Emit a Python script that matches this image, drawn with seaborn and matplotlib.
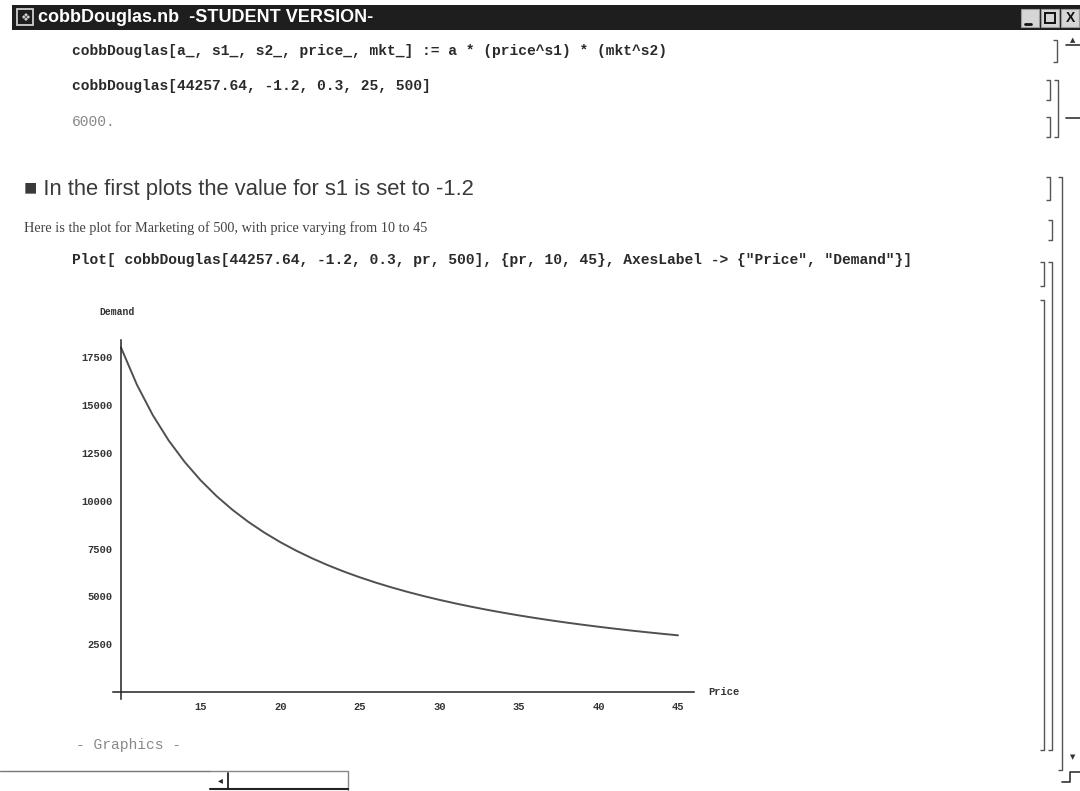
import matplotlib
matplotlib.use("Agg")
import matplotlib.pyplot as plt
from matplotlib.patches import Rectangle
from matplotlib.ticker import FixedLocator, MultipleLocator
import seaborn as sns
import pandas as pd

# ---- data ----
price = [10, 11, 12, 13, 14, 15, 16, 17, 18, 19, 20, 21, 22, 23, 24, 25, 26, 27,
         28, 29, 30, 31, 32, 33, 34, 35, 36, 37, 38, 39, 40, 41, 42, 43, 44, 45]
demand = [18017, 16070, 14476, 13150, 12032, 11076, 10250, 9531, 8899, 8340,
          7842, 7396, 6995, 6631, 6301, 6000, 5724, 5471, 5237, 5021,
          4821, 4635, 4462, 4300, 4149, 4007, 3874, 3748, 3630, 3519,
          3414, 3314, 3219, 3130, 3045, 2964]
x_ticks = [15, 20, 25, 30, 35, 40, 45]
x_tick_labels = ["15", "20", "25", "30", "35", "40", "45"]
y_ticks = [2500, 5000, 7500, 10000, 12500, 15000, 17500]
y_tick_labels = ["2500", "5000", "7500", "10000", "12500", "15000", "17500"]
x_label = "Price"
y_label = "Demand"

window_title = "cobbDouglas.nb  -STUDENT VERSION-"
code_def = "cobbDouglas[a_, s1_, s2_, price_, mkt_] := a * (price^s1) * (mkt^s2)"
code_eval = "cobbDouglas[44257.64, -1.2, 0.3, 25, 500]"
code_out = "6000."
heading = "\u25A0 In the first plots the value for s1 is set to -1.2"
desc = "Here is the plot for Marketing of 500, with price varying from 10 to 45"
code_plot = 'Plot[ cobbDouglas[44257.64, -1.2, 0.3, pr, 500], {pr, 10, 45}, AxesLabel -> {"Price", "Demand"}]'
graphics_out = "- Graphics -"

sns.set_style("white")
plt.rcParams["font.family"] = ["Liberation Sans", "DejaVu Sans"]

W, H = 1080, 791
fig = plt.figure(figsize=(W / 100, H / 100), dpi=100)
fig.patch.set_facecolor("white")

# overlay in pixel coordinates for the notebook chrome and text
ov = fig.add_axes([0, 0, 1, 1])
ov.set_xlim(0, W)
ov.set_ylim(H, 0)
ov.axis("off")
ov.set_zorder(0)

MONO = ["Liberation Mono", "DejaVu Sans Mono"]
CODE_X = 72
CODE_FS = 10.5

# title bar
ov.add_patch(Rectangle((12, 5), W - 12, 25, fc="#1e1e1e", ec="none"))
ov.add_patch(Rectangle((17, 9), 16, 16, fc="#1e1e1e", ec="#d0d0d0", lw=1.3))
ov.text(25, 17.5, "\u2756", color="#d0d0d0", fontsize=8, ha="center", va="center",
        family=["DejaVu Sans"])
ov.text(38, 18, window_title, color="white", fontsize=13, fontweight="bold",
        va="center", ha="left")
for bx in (1021, 1041, 1061):
    ov.add_patch(Rectangle((bx, 9), 18, 18, fc="#d6d6d6", ec="#9a9a9a", lw=0.8))
ov.plot([1025, 1031], [24, 24], color="#111", lw=2)
ov.add_patch(Rectangle((1045, 13), 10, 10, fc="none", ec="#111", lw=1.4))
ov.text(1070, 18, "X", color="#111", fontsize=10, fontweight="bold", ha="center", va="center")

# notebook text
ov.text(CODE_X, 51, code_def, family=MONO, fontweight="bold", fontsize=CODE_FS, color="#2a2a2a", va="center")
ov.text(CODE_X, 86, code_eval, family=MONO, fontweight="bold", fontsize=CODE_FS, color="#2a2a2a", va="center")
ov.text(CODE_X, 122, code_out, family=MONO, fontsize=CODE_FS, color="#888", va="center")
ov.text(24, 190, heading, fontsize=15.8, color="#3a3a3a", va="center",
        family=["Liberation Sans", "DejaVu Sans"])
ov.text(24, 228, desc, family=["Liberation Serif"], fontsize=10.3, color="#444", va="center")
ov.text(CODE_X, 260, code_plot, family=MONO, fontweight="bold", fontsize=CODE_FS, color="#2a2a2a", va="center")
ov.text(CODE_X + 4, 745, graphics_out, family=MONO, fontsize=CODE_FS, color="#888", va="center")

# cell brackets on the right
def bracket(x, y0, y1, w=4, lw=1.0, c="#555"):
    ov.plot([x - w, x, x, x - w], [y0, y0, y1, y1], color=c, lw=lw, solid_capstyle="butt")

bracket(1057, 40, 62)
bracket(1050, 80, 100)
bracket(1050, 117, 137)
bracket(1058, 80, 137)
bracket(1050, 177, 200)
bracket(1052, 220, 240)
bracket(1044, 262, 286)
bracket(1044, 300, 750)
bracket(1052, 262, 750)
bracket(1062, 177, 770)
ov.plot([1066, 1080], [118, 118], color="#333", lw=1.2)
ov.plot([1066, 1080], [45, 45], color="#333", lw=1.2)
ov.text(1073, 40, "\u25B2", fontsize=5, ha="center", va="center", color="#333",
        family=["DejaVu Sans"])
ov.text(1073, 757, "\u25BC", fontsize=5, ha="center", va="center", color="#333",
        family=["DejaVu Sans"])
ov.plot([1062, 1070, 1070, 1080], [782, 782, 772, 772], color="#333", lw=1.2)

# bottom scroll bar
ov.plot([0, 210], [771, 771], color="#777", lw=1.0)
ov.plot([210, 348, 348], [771, 771, 790], color="#888", lw=1.0)
ov.plot([210, 348], [789, 789], color="#222", lw=1.5)
ov.plot([228, 228], [773, 788], color="#222", lw=1.3)
ov.text(220, 780, "\u25C2", fontsize=7, ha="center", va="center", color="#222",
        family=["DejaVu Sans"])

# ---- the plot ----
x_lo, x_hi = 9.5, 46.0
y_lo, y_hi = -350, 18400
px_x = lambda p: 121 + (p - 10) * 15.914
px_y = lambda d: 692 - d * 0.01912
left, right = px_x(x_lo), px_x(x_hi)
top, bottom = px_y(y_hi), px_y(y_lo)
ax = fig.add_axes([left / W, 1 - bottom / H, (right - left) / W, (bottom - top) / H])
ax.set_zorder(2)
ax.patch.set_alpha(0)

df = pd.DataFrame({x_label: price, y_label: demand})
sns.lineplot(data=df, x=x_label, y=y_label, ax=ax, color="#505050", linewidth=1.4)

ax.set_xlim(x_lo, x_hi)
ax.set_ylim(y_lo, y_hi)
ax.set_xlabel("")
ax.set_ylabel("")
for s in ("top", "right"):
    ax.spines[s].set_visible(False)
ax.spines["left"].set_position(("data", 10))
ax.spines["bottom"].set_position(("data", 0))
for s in ("left", "bottom"):
    ax.spines[s].set_color("#222")
    ax.spines[s].set_linewidth(1.1)

ax.xaxis.set_major_locator(FixedLocator(x_ticks))
ax.set_xticklabels(x_tick_labels)
ax.xaxis.set_minor_locator(MultipleLocator(1))
ax.yaxis.set_major_locator(FixedLocator(y_ticks))
ax.set_yticklabels(y_tick_labels)
ax.yaxis.set_minor_locator(MultipleLocator(500))
ax.tick_params(which="both", direction="in", color="#333", width=0.9)
ax.tick_params(which="major", length=4.5, labelsize=7.5, labelcolor="#333")
ax.tick_params(which="minor", length=2.5)
ax.tick_params(axis="y", which="major", pad=6)
ax.tick_params(axis="x", which="major", pad=7)
for lab in ax.get_xticklabels() + ax.get_yticklabels():
    lab.set_family(MONO)
    lab.set_fontweight("bold")

ax.annotate(y_label, xy=(10, y_hi), xycoords="data", xytext=(-3, 20), textcoords="offset points",
            ha="center", va="center", fontsize=7, family=MONO, fontweight="bold", color="#333",
            annotation_clip=False)
ax.annotate(x_label, xy=(x_hi, 0), xycoords="data", xytext=(10, 0), textcoords="offset points",
            ha="left", va="center", fontsize=7.5, family=MONO, fontweight="bold", color="#333",
            annotation_clip=False)

fig.savefig("out.png", dpi=100, facecolor="white")
